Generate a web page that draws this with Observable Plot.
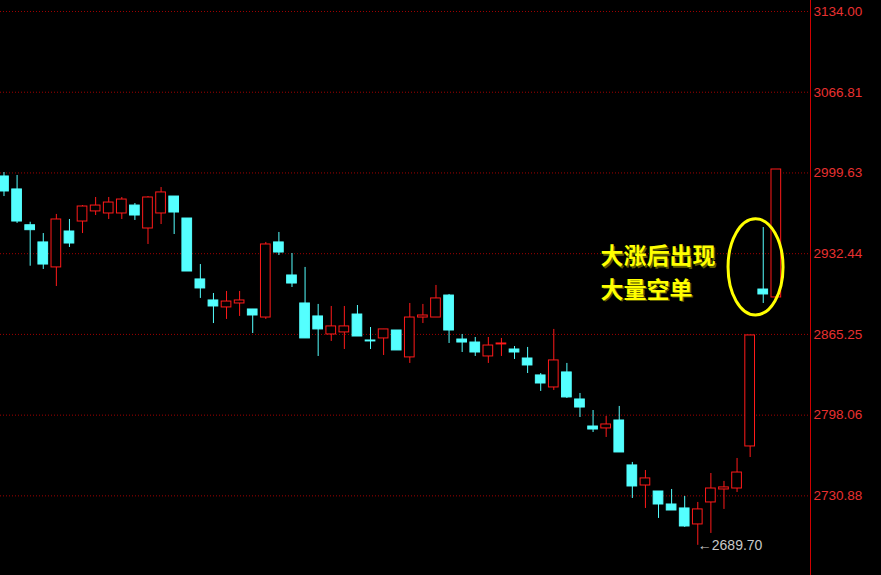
<!DOCTYPE html>
<html>
<head>
<meta charset="utf-8">
<script src="https://cdn.jsdelivr.net/npm/d3@7"></script>
<script src="https://cdn.jsdelivr.net/npm/@observablehq/plot@0.6"></script>
<style>
html, body { margin: 0; padding: 0; background: #000; }
#chart svg { display: block; }
</style>
</head>
<body>
<div id="chart"></div>
<script>
// Candlestick data
const opens  = [2996.7,2985.9,2956.1,2941.8,2921.0,2950.9,2959.2,2967.6,2965.9,2965.9,
                2972.5,2953.4,2965.9,2980.0,2961.7,2911.0,2893.5,2887.7,2891.0,2886.0,
                2879.3,2941.8,2914.3,2891.0,2880.2,2865.2,2866.9,2881.8,2860.2,2861.9,
                2868.5,2846.1,2879.3,2879.3,2897.6,2861.0,2858.5,2846.9,2856.9,2852.7,
                2845.2,2831.1,2821.1,2833.6,2811.1,2788.6,2787.0,2793.6,2756.2,2739.5,
                2734.5,2723.7,2720.4,2707.1,2725.4,2736.2,2737.0,2772.0,2902.6,2896.0];
const highs  = [3000.0,2997.5,2958.6,2949.2,2965.1,2960.9,2972.5,2979.2,2979.2,2979.2,
                2974.2,2980.0,2987.5,2980.0,2961.7,2923.4,2899.3,2901.0,2901.0,2886.0,
                2941.8,2950.1,2932.6,2921.0,2890.2,2888.5,2888.5,2889.3,2871.0,2869.4,
                2868.5,2891.0,2890.2,2906.0,2898.5,2865.2,2862.7,2862.7,2861.9,2855.2,
                2854.4,2832.7,2869.4,2841.1,2816.1,2801.9,2797.0,2805.3,2758.7,2752.0,
                2734.5,2736.2,2730.4,2725.4,2749.5,2742.9,2762.0,2864.4,2954.2,3002.5];
const lows   = [2980.0,2957.6,2922.0,2919.3,2905.1,2937.6,2949.2,2964.2,2960.9,2960.9,
                2960.1,2940.1,2956.7,2948.4,2917.6,2895.2,2874.3,2877.7,2880.2,2866.0,
                2877.7,2930.9,2904.3,2861.9,2846.9,2859.4,2852.7,2863.5,2852.7,2847.7,
                2851.9,2841.1,2874.3,2879.3,2857.7,2850.2,2846.9,2841.1,2846.9,2844.4,
                2832.7,2817.8,2818.6,2811.9,2796.1,2783.6,2779.5,2767.0,2728.7,2720.4,
                2712.1,2718.7,2704.6,2689.7,2699.6,2719.6,2733.7,2762.8,2891.0,2896.0];
const closes = [2984.2,2959.2,2952.0,2923.4,2960.9,2940.9,2971.7,2972.5,2975.0,2977.5,
                2964.2,2979.2,2983.4,2966.7,2917.6,2903.5,2888.5,2892.6,2893.5,2881.0,
                2940.1,2933.4,2907.6,2861.9,2869.4,2871.9,2871.9,2863.5,2859.4,2869.4,
                2851.9,2879.3,2881.0,2895.2,2868.5,2858.5,2850.2,2856.0,2857.7,2850.2,
                2839.4,2824.4,2843.6,2812.8,2804.4,2786.1,2790.3,2767.0,2738.7,2745.4,
                2723.7,2718.7,2705.4,2719.6,2737.0,2737.9,2750.3,2864.4,2898.5,3002.5];

const yTicks = [3134.00, 3066.81, 2999.63, 2932.44, 2865.25, 2798.06, 2730.88];
const lowLabel = [{i: 53, v: 2689.70, text: "\u2190" + (2689.70).toFixed(2)}];
const noteLines = ["大涨后出现", "大量空单"];
const noteAnchor = [{i: 45.57, v: 2918.5}];
const ellipseBox = {i1: 55.35, i2: 59.55, v1: 2881.0, v2: 2961.0};

const UP = "#ff1a1a", DOWN = "#54ffff";

const candles = opens.map((o, i) => ({
  i, open: o, high: highs[i], low: lows[i], close: closes[i],
  up: closes[i] >= o
}));

const noteOpts = {
  x: "i", y: "v", text: () => noteLines.join("\n"), textAnchor: "start",
  lineHeight: 1.45, fontSize: 23, fontWeight: "bold",
  fontFamily: "'Noto Sans CJK SC', sans-serif"
};

const chart = Plot.plot({
  width: 881,
  height: 575,
  marginLeft: 0,
  marginRight: 71,
  marginTop: 0,
  marginBottom: 0,
  style: {background: "#000", fontFamily: "'Liberation Sans', Arial, sans-serif"},
  x: {type: "linear", domain: [-0.267, 61.61], axis: null},
  y: {domain: [2664.6, 3143.15], axis: null},
  marks: [
    Plot.gridY(yTicks, {stroke: "#a00000", strokeOpacity: 1, strokeDasharray: "1,2"}),
    Plot.frame({anchor: "right", stroke: "#d00000"}),
    Plot.axisY(yTicks, {
      anchor: "right", tickSize: 0, tickPadding: 3,
      tickFormat: d => d.toFixed(2), fill: "#e83030", fontSize: 13.5
    }),
    Plot.ruleX(candles, {
      x: "i", y1: "low", y2: "high",
      stroke: d => d.up ? UP : DOWN, strokeWidth: 1
    }),
    Plot.rect(candles, {
      x1: d => d.i - 0.37, x2: d => d.i + 0.37,
      y1: "open", y2: "close",
      fill: d => d.up ? "#000" : DOWN,
      stroke: d => d.up ? UP : DOWN, strokeWidth: 1
    }),
    Plot.text(lowLabel, {
      x: "i", y: "v", text: "text", textAnchor: "start",
      fill: "#c8c8c8", fontSize: 14, dx: 0
    }),
    Plot.text(noteAnchor, {...noteOpts, fill: "#5a5a00", dx: 1.5, dy: 1.5}),
    Plot.text(noteAnchor, {...noteOpts, fill: "#ffff00"})
  ]
});

// Yellow ellipse annotation positioned via the plot's scales
const xs = chart.scale("x"), ys = chart.scale("y");
const ex1 = xs.apply(ellipseBox.i1), ex2 = xs.apply(ellipseBox.i2);
const ey1 = ys.apply(ellipseBox.v1), ey2 = ys.apply(ellipseBox.v2);
d3.select(chart).append("ellipse")
  .attr("cx", (ex1 + ex2) / 2).attr("cy", (ey1 + ey2) / 2)
  .attr("rx", Math.abs(ex2 - ex1) / 2).attr("ry", Math.abs(ey2 - ey1) / 2)
  .attr("fill", "none").attr("stroke", "#ffff00").attr("stroke-width", 3);

document.getElementById("chart").appendChild(chart);
</script>
</body>
</html>
